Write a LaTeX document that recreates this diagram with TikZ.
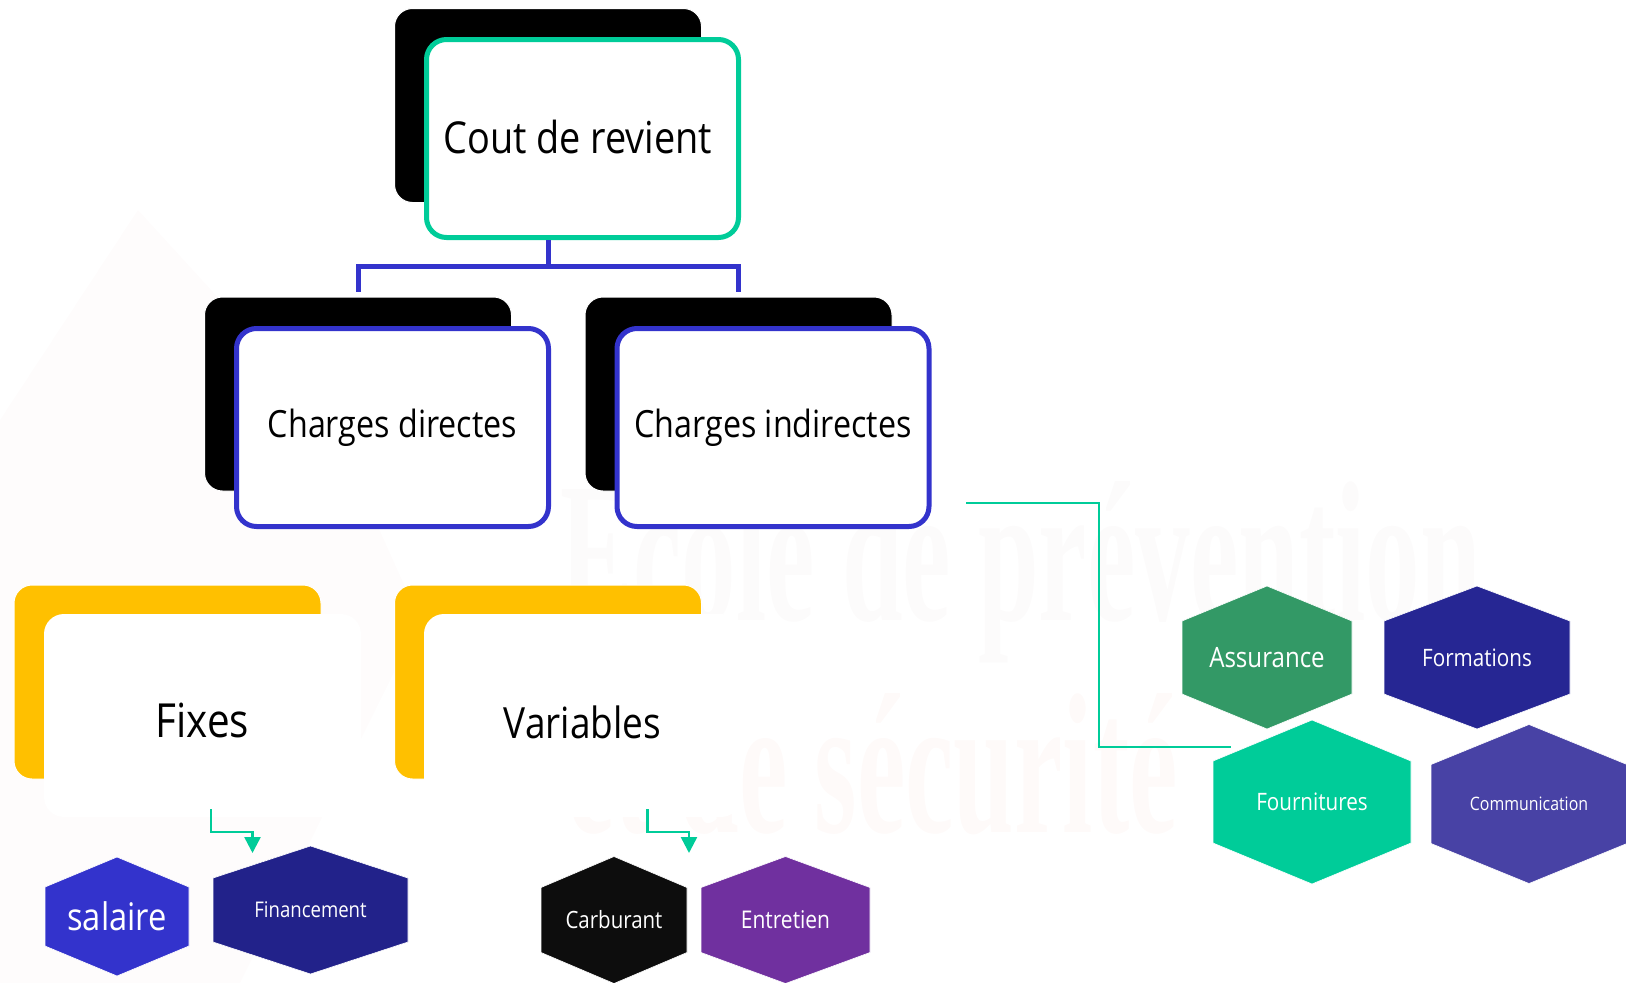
\documentclass[tikz,border=0pt]{standalone}
\usepackage{fontspec}
\setmainfont[FakeStretch=0.86]{Open Sans}
\newfontfamily\markfont[FakeStretch=0.545]{Liberation Serif}
\usetikzlibrary{positioning, arrows.meta}

\definecolor{leaf}{HTML}{00CC99}
\definecolor{royal}{HTML}{3333CC}
\definecolor{amber}{HTML}{FFC000}
\definecolor{sage}{HTML}{339966}
\definecolor{navy}{HTML}{262693}
\definecolor{ink}{HTML}{22228A}
\definecolor{dusk}{HTML}{4842A5}
\definecolor{plum}{HTML}{70309F}
\definecolor{coal}{HTML}{0D0D0D}
\definecolor{markgrey}{HTML}{FCFBFB}
\definecolor{markrose}{HTML}{FEFAF9}
\definecolor{markhouse}{HTML}{FEFCFC}

% one hexagon: name, centre x, centre y, half width, half height, corner cut, colour, size, text
\newcommand{\hexcell}[9]{
      \draw [white, line width=0.6pt, fill=#7] (#2,#3-#5) -- (#2+#4,#3-#5+#6) -- (#2+#4,#3+#5-#6) -- (#2,#3+#5) -- (#2-#4,#3+#5-#6) -- (#2-#4,#3-#5+#6) -- cycle;
      \node (#1) [hexlabel, font=\fontsize{#8}{#8}\selectfont] at (#2,#3) {#9};
}

\begin{document}
\begin{tikzpicture}[
                  x=1pt, y=-1pt,
                  backbox/.style={rectangle, draw=white, line width=1pt, rounded corners=18pt, minimum width=307pt, minimum height=194pt},
                  darkbox/.style={backbox, fill=black},
                  ambox/.style={backbox, fill=amber},
                  frontbox/.style={rectangle, fill=white, line width=5pt, rounded corners=20pt, minimum width=312pt, minimum height=198pt, align=center, text=black},
                  plainbox/.style={rectangle, fill=white, rounded corners=20pt, minimum width=317pt, minimum height=203pt, align=center, text=black, text depth=0pt},
                  hexlabel/.style={text=white, inner sep=0pt},
                  tree/.style={royal, line width=5pt},
                  wire/.style={leaf, line width=2pt},
                  arrow/.style={leaf, line width=2.5pt, -{Triangle[length=16pt, width=16pt]}}
            ]
            \useasboundingbox (0,0) rectangle (1626,983);

            % Faint background
            \fill [markhouse] (138,210) -- (0,420) -- (0,983) -- (240,983) -- (420,620) -- (330,420) -- cycle;
            \node (markone) [anchor=base east, inner sep=0pt, text=markgrey, font=\markfont\bfseries\fontsize{200}{200}\selectfont] at (1481,620) {École de prévention};
            \node (marktwo) [anchor=base east, inner sep=0pt, text=markrose, font=\markfont\bfseries\fontsize{200}{200}\selectfont] at (1178,832) {et de sécurité};

            % Nodes
            \node (coutback) [darkbox] at (548,105.5) {};
            \node (cout) [frontbox, draw=leaf, font=\fontsize{44}{44}\selectfont, text depth=4pt] at (582.5,138.5) {Cout de revient\hphantom{i}};

            \node (dirback) [darkbox] at (358,394) {};
            \node (dir) [frontbox, draw=royal, font=\fontsize{37.5}{37.5}\selectfont, text depth=8pt] at (392.5,427.5) {Charges directes};
            \node (indback) [darkbox] at (738.5,394) {};
            \node (ind) [frontbox, draw=royal, font=\fontsize{37.5}{37.5}\selectfont, text depth=8pt] at (773,427.5) {Charges indirectes};

            \node (fixback) [ambox] at (167.5,682) {};
            \node (fix) [plainbox, text height=43pt, font=\fontsize{47}{47}\selectfont] at (202.5,715.5) {Fixes};
            \node (varback) [ambox] at (548,682) {};
            \node (var) [plainbox, text height=45pt, font=\fontsize{43}{43}\selectfont] at (582.5,715.5) {Variables};

            \hexcell{salaire}{117}{916.5}{72}{59.5}{30}{royal}{38}{salaire}
            \hexcell{fin}{310.5}{910}{97.5}{64}{32}{ink}{21.6}{Financement}
            \hexcell{carb}{614}{920}{73}{63.5}{31}{coal}{23.8}{Carburant}
            \hexcell{entre}{785.5}{920}{84.5}{63.5}{31}{plum}{24.4}{Entretien}
            \hexcell{assur}{1267}{657.5}{85}{71.5}{35}{sage}{28}{Assurance}
            \hexcell{forma}{1477}{657.5}{93}{71.5}{35}{navy}{24}{Formations}
            \hexcell{fourn}{1312}{802}{99}{82}{41}{leaf}{24}{Fournitures}
            \hexcell{commu}{1529}{804}{98}{79.5}{40}{dusk}{18.5}{Communication}

            \coordinate (split) at (548,266);
            \coordinate (indout) at (966,503);
            \coordinate (turn) at (1099,747);
            \coordinate (fournin) at (1231,747);
            \coordinate (fixout) at (211,809);
            \coordinate (fixkink) at (211,832);
            \coordinate (fixtip) at (252.5,853);
            \coordinate (varout) at (647.5,809);
            \coordinate (varkink) at (647.5,832);
            \coordinate (vartip) at (689,853);

            % Arrows
            \draw [tree] (coutback.south |- cout.south) -- (split);
            \draw [tree, shorten <=5pt] (dirback.north) |- (split);
            \draw [tree, shorten <=5pt] (indback.north) |- (split);

            \draw [wire] (indout) -| (turn) -- (fournin);
            \draw [arrow] (fixout) -- (fixkink) -| (fixtip);
            \draw [arrow] (varout) -- (varkink) -| (vartip);

      \end{tikzpicture}
\end{document}
